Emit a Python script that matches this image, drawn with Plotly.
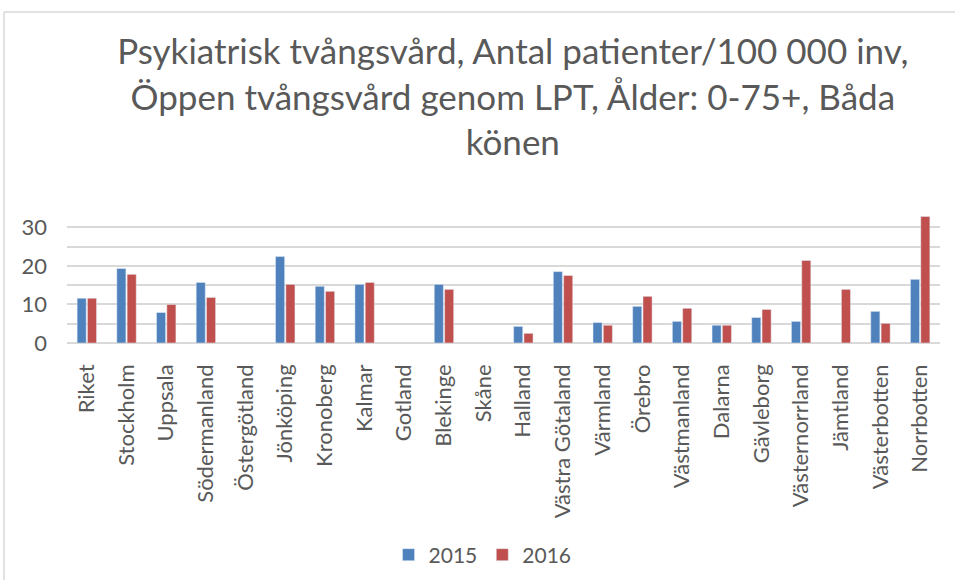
import plotly.graph_objects as go

categories = ["Riket", "Stockholm", "Uppsala", "Södermanland", "Östergötland", "Jönköping",
              "Kronoberg", "Kalmar", "Gotland", "Blekinge", "Skåne", "Halland",
              "Västra Götaland", "Värmland", "Örebro", "Västmanland", "Dalarna",
              "Gävleborg", "Västernorrland", "Jämtland", "Västerbotten", "Norrbotten"]
values_2015 = [11.6, 19.3, 7.9, 15.7, None, 22.4, 14.7, 15.2, None, 15.2, None, 4.3,
               18.5, 5.3, 9.5, 5.6, 4.6, 6.6, 5.6, None, 8.2, 16.5]
values_2016 = [11.6, 17.8, 10.0, 11.8, None, 15.2, 13.4, 15.7, None, 13.9, None, 2.5,
               17.5, 4.6, 12.1, 9.0, 4.6, 8.7, 21.4, 13.9, 5.1, 32.8]

title_text = ("Psykiatrisk tvångsvård, Antal patienter/100 000 inv,<br>"
              "Öppen tvångsvård genom LPT, Ålder: 0-75+, Båda<br>könen")

FONT = "Lato, 'Open Sans', sans-serif"
GRAY = "#595959"
GRID = "#D9D9D9"

fig = go.Figure()
fig.add_trace(go.Bar(x=categories, y=values_2015, name="2015", marker_color="#4F81BD"))
fig.add_trace(go.Bar(x=categories, y=values_2016, name="2016", marker_color="#C0504D"))

fig.update_layout(
    width=955, height=580,
    paper_bgcolor="white", plot_bgcolor="white",
    margin=dict(l=67, r=15, t=208, b=237, autoexpand=False),
    barmode="group", bargap=0.48, bargroupgap=0.12,
    font=dict(family=FONT, color=GRAY, size=20),
    title=dict(text=title_text, x=0.537, xanchor="center", y=0.8891, yanchor="top",
               font=dict(family=FONT, size=35, color=GRAY)),
    legend=dict(orientation="h", x=0.476, xanchor="center", yref="container", y=0.0431,
                yanchor="middle", font=dict(size=21, color=GRAY), itemwidth=30),
    showlegend=True,
)
fig.update_xaxes(tickangle=-90, tickfont=dict(size=22, color=GRAY), showline=False,
                 ticks="", ticklen=0, ticklabelstandoff=16, showgrid=False, automargin=False)
fig.update_yaxes(range=[0, 35], dtick=10, tick0=0, showgrid=True, gridcolor=GRID, gridwidth=1.5,
                 minor=dict(dtick=5, tick0=0, showgrid=True, gridcolor=GRID, gridwidth=1.5),
                 zeroline=True, zerolinecolor=GRID, zerolinewidth=1.5,
                 tickfont=dict(size=22, color=GRAY), ticks="", ticklen=0, ticklabelstandoff=19,
                 showline=False, automargin=False)

# chart-area border (left and top edges visible)
fig.add_shape(type="line", xref="paper", yref="paper",
              x0=-63/873, x1=-63/873, y0=-3, y1=1 + 196/135,
              line=dict(color=GRID, width=1.5))
fig.add_shape(type="line", xref="paper", yref="paper",
              x0=-63/873, x1=1.2, y0=1 + 196/135, y1=1 + 196/135,
              line=dict(color=GRID, width=1.5))

# remove the default page margin so the 955x580 figure fills the window exactly
fig.write_html("out.html", config={"displayModeBar": False},
               post_script="document.body.style.margin='0';document.body.style.overflow='hidden';")
